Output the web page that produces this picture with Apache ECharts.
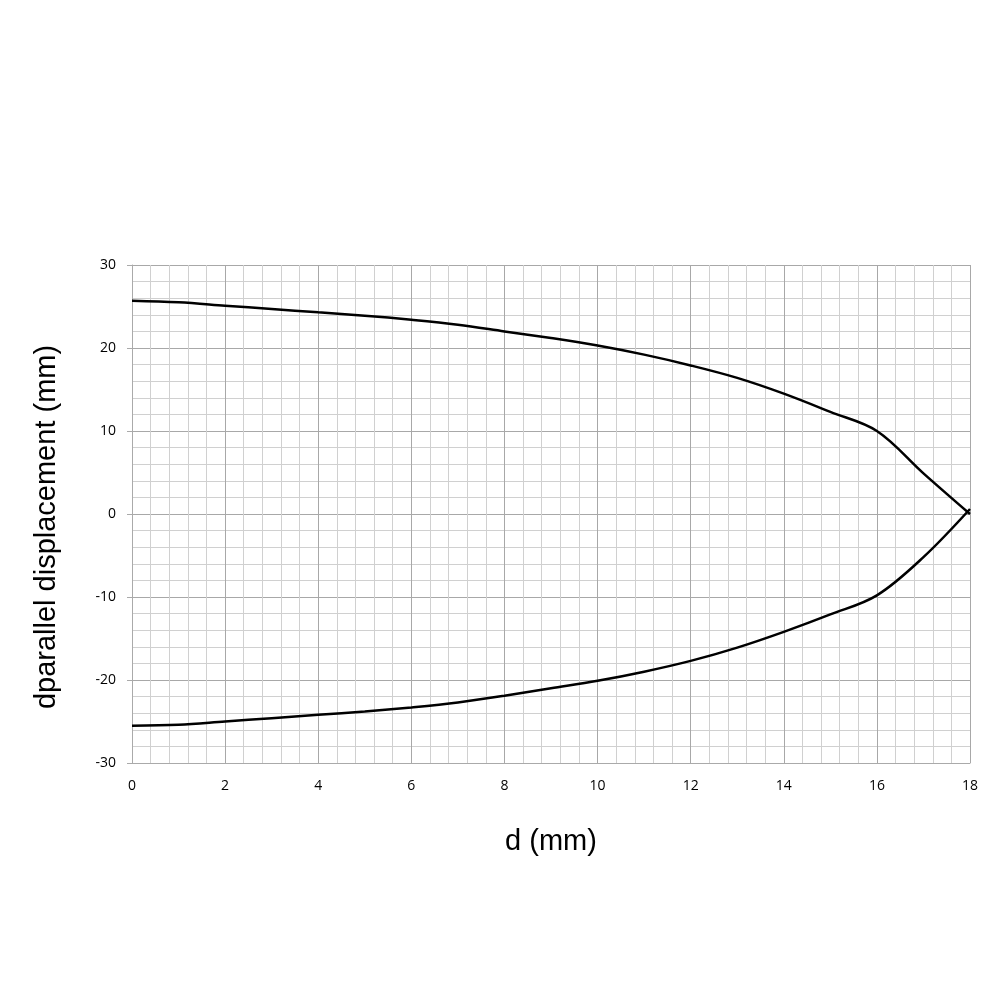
<!DOCTYPE html>
<html>
<head>
<meta charset="utf-8">
<script src="https://cdn.jsdelivr.net/npm/echarts@6/dist/echarts.min.js"></script>
<style>
  html, body { margin: 0; padding: 0; background: #fff; }
  #chart { width: 1000px; height: 1000px; }
</style>
</head>
<body>
<div id="chart"></div>
<script>
// d (mm) sample positions
const dValues = [0, 1, 2, 3, 4, 5, 6, 7, 8, 9, 10, 11, 12, 13, 14, 15, 16, 17, 18];
// upper branch
const upperValues = [25.7, 25.5, 25.1, 24.7, 24.3, 23.9, 23.4, 22.8, 22.0, 21.2, 20.3, 19.2, 17.9, 16.4, 14.5, 12.3, 10.0, 4.9, 0];
// lower branch
const lowerValues = [-25.5, -25.4, -25.0, -24.6, -24.2, -23.8, -23.3, -22.7, -21.9, -21.0, -20.1, -19.0, -17.7, -16.1, -14.2, -12.1, -9.8, -5.2, 0.6];

const xTicks = { min: 0, max: 18, interval: 2 };
const yTicks = { min: -30, max: 30, interval: 10 };

const toPairs = (xs, ys) => xs.map((x, i) => [x, ys[i]]);

const chart = echarts.init(document.getElementById("chart"));
const option = {
  animation: false,
  backgroundColor: "#fff",
  grid: { left: 132, right: 30, top: 265, bottom: 237 },
  xAxis: {
    type: "value",
    min: xTicks.min,
    max: xTicks.max,
    interval: xTicks.interval,
    name: "d (mm)",
    nameLocation: "middle",
    nameGap: 64,
    nameTextStyle: { fontFamily: "Liberation Sans", fontSize: 29, color: "#000" },
    axisLine: { show: true, onZero: false, lineStyle: { color: "#aaa", width: 1 } },
    axisTick: { show: false },
    axisLabel: { fontFamily: "Open Sans", fontSize: 14, color: "#000", margin: 16 },
    splitLine: { show: true, lineStyle: { color: "#a8a8a8", width: 1 } },
    minorTick: { show: false, splitNumber: 5 },
    minorSplitLine: { show: true, lineStyle: { color: "#d0d0d0", width: 1 } },
  },
  yAxis: {
    type: "value",
    min: yTicks.min,
    max: yTicks.max,
    interval: yTicks.interval,
    name: "dparallel displacement (mm)",
    nameLocation: "middle",
    nameGap: 71,
    nameTextStyle: { fontFamily: "Liberation Sans", fontSize: 29, color: "#000", padding: [0, 26, 0, 0] },
    axisLine: { show: true, lineStyle: { color: "#aaa", width: 1 } },
    axisTick: { show: true, inside: false, length: 5, lineStyle: { color: "#aaa" } },
    axisLabel: { fontFamily: "Open Sans", fontSize: 14, color: "#000", margin: 16 },
    splitLine: { show: true, lineStyle: { color: "#a8a8a8", width: 1 } },
    minorTick: { show: false, splitNumber: 5 },
    minorSplitLine: { show: true, lineStyle: { color: "#d0d0d0", width: 1 } },
  },
  series: [
    {
      type: "line",
      data: toPairs(dValues, upperValues),
      smooth: 0.35,
      showSymbol: false,
      lineStyle: { color: "#000", width: 2.5 },
    },
    {
      type: "line",
      data: toPairs(dValues, lowerValues),
      smooth: 0.35,
      showSymbol: false,
      lineStyle: { color: "#000", width: 2.5 },
    },
  ],
};
chart.setOption(option);
</script>
</body>
</html>
